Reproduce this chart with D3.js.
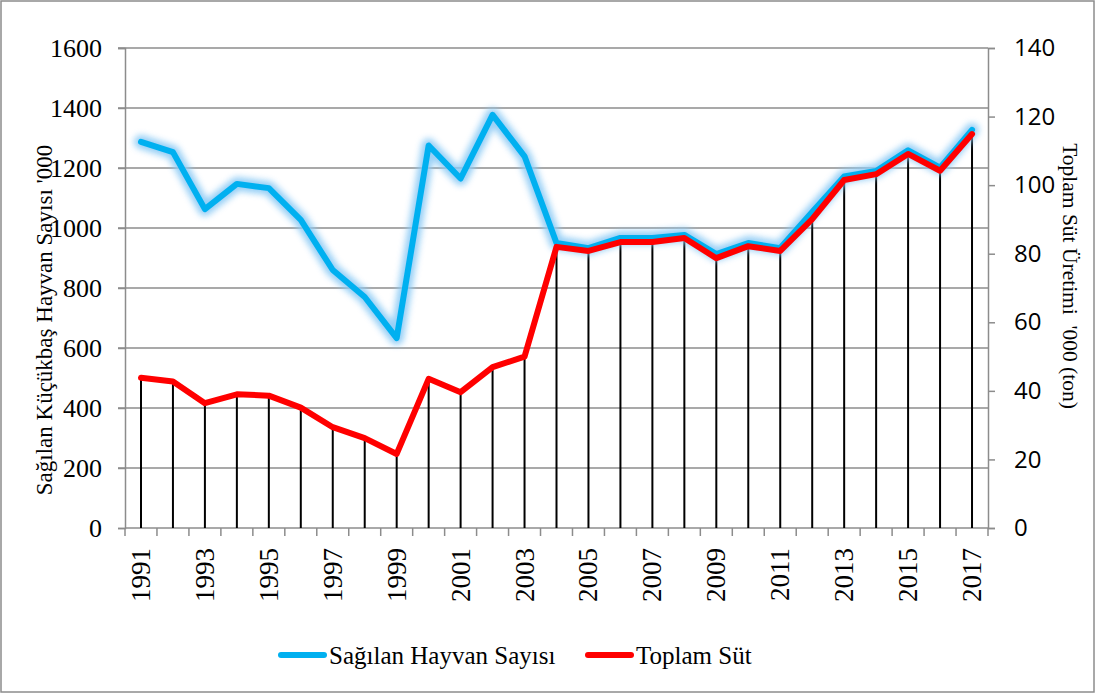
<!DOCTYPE html>
<html>
<head>
<meta charset="utf-8">
<script src="https://cdn.jsdelivr.net/npm/d3@7"></script>
<style>
  html, body { margin: 0; padding: 0; background: #fff; }
  svg { display: block; }
</style>
</head>
<body>
<svg id="chart" width="1096" height="695"></svg>
<script>
// Years on the category axis
const years = d3.range(1991, 2018);
// Milked small ruminant count ('000 head), left axis
const animals = [1287, 1253, 1063, 1147, 1133, 1027, 860, 770, 633, 1275, 1165, 1377, 1239, 950,
                 933, 967, 967, 977, 913, 950, 933, 1053, 1172, 1190, 1259, 1201, 1327];
// Total milk production ('000 ton), right axis
const milk = [43.8, 42.7, 36.4, 39.0, 38.6, 35.1, 29.4, 26.2, 21.6, 43.5, 39.6, 46.9, 50.0, 82.0,
              80.8, 83.4, 83.4, 84.6, 78.7, 82.2, 80.8, 90.1, 101.5, 103.2, 109.1, 104.2, 114.9];
const leftTicks = d3.range(0, 1601, 200);
const rightTicks = d3.range(0, 141, 20);
const yearLabels = years.filter((y, i) => i % 2 === 0);
const seriesNames = ["Sağılan Hayvan Sayısı", "Toplam Süt"];
const seriesColors = ["#00b0f0", "#ff0000"];

const SERIF = "'Liberation Serif', 'Times New Roman', Times, serif";
const SANS = "'Open Sans', 'Liberation Sans', Arial, sans-serif";

const svg = d3.select("#chart");
const W = 1096, H = 695;
const plot = { left: 125, right: 988, top: 48, bottom: 528 };

// Outer frame
svg.append("rect").attr("x", 1).attr("y", 1).attr("width", W - 3).attr("height", H - 4)
  .attr("fill", "#fff").attr("stroke", "#8c8c8c").attr("stroke-width", 1.5);

const x = d3.scaleBand().domain(years).range([plot.left, plot.right]).paddingInner(0).paddingOuter(0);
const yL = d3.scaleLinear().domain([0, 1600]).range([plot.bottom, plot.top]);
const yR = d3.scaleLinear().domain([0, 140]).range([plot.bottom, plot.top]);
const cx = d => x(d) + x.bandwidth() / 2;

// Glow filter for the animal-count line
const defs = svg.append("defs");
const f = defs.append("filter").attr("id", "glow").attr("x", "-10%").attr("y", "-10%").attr("width", "120%").attr("height", "120%");
f.append("feGaussianBlur").attr("in", "SourceGraphic").attr("stdDeviation", 3);

// Horizontal gridlines
svg.append("g").selectAll("line").data(leftTicks.slice(1)).join("line")
  .attr("x1", plot.left - 7).attr("x2", plot.right)
  .attr("y1", d => yL(d)).attr("y2", d => yL(d))
  .attr("stroke", "#8c8c8c").attr("stroke-width", 1.5);

// Left axis
const gL = svg.append("g").attr("transform", `translate(${plot.left},0)`)
  .call(d3.axisLeft(yL).tickValues(leftTicks).tickSize(7).tickPadding(16).tickFormat(d3.format("d")));
gL.attr("font-family", SERIF).attr("font-size", 26);
gL.selectAll("path, line").attr("stroke", "#8c8c8c").attr("stroke-width", 1.5);
gL.selectAll("text").style("font-family", SERIF).style("font-size", "26px").attr("fill", "#000");

// Right axis
const gR = svg.append("g").attr("transform", `translate(${plot.right},0)`)
  .call(d3.axisRight(yR).tickValues(rightTicks).tickSize(7).tickPadding(19).tickFormat(d3.format("d")));
gR.attr("font-family", SANS).attr("font-size", 24);
gR.selectAll("path, line").attr("stroke", "#8c8c8c").attr("stroke-width", 1.5);
gR.selectAll("text").style("font-family", SANS).style("font-size", "24px").attr("fill", "#000");

// Bottom axis: ticks at category boundaries
const boundaries = years.map(d => x(d)).concat([plot.right]);
svg.append("line").attr("x1", plot.left).attr("x2", plot.right)
  .attr("y1", plot.bottom).attr("y2", plot.bottom).attr("stroke", "#8c8c8c").attr("stroke-width", 1.5);
svg.append("g").selectAll("line").data(boundaries).join("line")
  .attr("x1", d => d).attr("x2", d => d)
  .attr("y1", plot.bottom).attr("y2", plot.bottom + 8)
  .attr("stroke", "#8c8c8c").attr("stroke-width", 1.5);

// Year labels (rotated)
svg.append("g").selectAll("text").data(yearLabels).join("text")
  .attr("transform", d => `translate(${cx(d) + 9},${plot.bottom + 20}) rotate(-90)`)
  .attr("text-anchor", "end")
  .style("font-family", SERIF).style("font-size", "27px")
  .text(d => d);

// Drop lines from milk points to the axis
svg.append("g").selectAll("line").data(years).join("line")
  .attr("x1", d => cx(d)).attr("x2", d => cx(d))
  .attr("y1", (d, i) => yR(milk[i])).attr("y2", plot.bottom)
  .attr("stroke", "#000").attr("stroke-width", 2);

// Animal count line with soft glow
const lineL = d3.line().x((d, i) => cx(years[i])).y(d => yL(d));
svg.append("path").datum(animals).attr("d", lineL)
  .attr("fill", "none").attr("stroke", "#8ccaf5").attr("stroke-width", 14)
  .attr("stroke-linejoin", "round").attr("stroke-linecap", "round").attr("filter", "url(#glow)").attr("opacity", 0.9);
svg.append("path").datum(animals).attr("d", lineL)
  .attr("fill", "none").attr("stroke", seriesColors[0]).attr("stroke-width", 6)
  .attr("stroke-linejoin", "round").attr("stroke-linecap", "round");

// Milk production line
const lineR = d3.line().x((d, i) => cx(years[i])).y(d => yR(d));
svg.append("path").datum(milk).attr("d", lineR)
  .attr("fill", "none").attr("stroke", seriesColors[1]).attr("stroke-width", 6)
  .attr("stroke-linejoin", "round").attr("stroke-linecap", "round");

// Axis titles
svg.append("text").attr("transform", "translate(52,320) rotate(-90)")
  .attr("text-anchor", "middle").style("font-family", SERIF).style("font-size", "23px")
  .text("Sağılan Küçükbaş Hayvan Sayısı '000");
svg.append("text").attr("transform", "translate(1063,276) rotate(90)")
  .attr("text-anchor", "middle").style("font-family", SERIF).style("font-size", "21.5px")
  .style("white-space", "pre")
  .text("Toplam Süt Üretimi  '000 (ton)");

// Legend
const legend = svg.append("g");
const items = [{ x: 278, label: seriesNames[0], color: seriesColors[0] },
               { x: 585, label: seriesNames[1], color: seriesColors[1] }];
items.forEach(it => {
  legend.append("line").attr("x1", it.x + 3).attr("x2", it.x + 46).attr("y1", 655).attr("y2", 655)
    .attr("stroke", it.color).attr("stroke-width", 6).attr("stroke-linecap", "round");
  legend.append("text").attr("x", it.x + 51).attr("y", 664)
    .style("font-family", SERIF).style("font-size", "25px").text(it.label);
});
</script>
</body>
</html>
